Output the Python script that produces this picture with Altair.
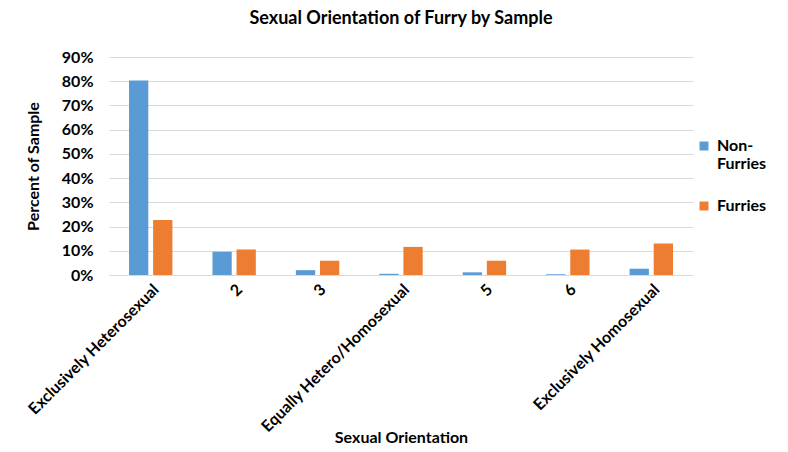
import altair as alt
import pandas as pd

categories = ["Exclusively Heterosexual", "2", "3", "Equally Hetero/Homosexual", "5", "6", "Exclusively Homosexual"]
non_furries = [80.3, 9.6, 2.0, 0.5, 1.1, 0.3, 2.6]
furries = [22.7, 10.5, 5.9, 11.6, 5.9, 10.5, 13.0]
series = ["Non-Furries", "Furries"]
colors = ["#5B9BD5", "#ED7D31"]

rows = []
for i, c in enumerate(categories):
    rows.append({"cat": c, "series": series[0], "value": non_furries[i] / 100})
    rows.append({"cat": c, "series": series[1], "value": furries[i] / 100})
df = pd.DataFrame(rows)

FONT = "Lato"

chart = alt.Chart(df).mark_bar().encode(
    x=alt.X("cat:N", sort=categories, title="Sexual Orientation",
            scale=alt.Scale(paddingInner=0.48, paddingOuter=0.24),
            axis=alt.Axis(labelAngle=-45, labelFontSize=16, labelFontWeight="bold",
                          labelColor="#000", ticks=False, domainColor="#d9d9d9",
                          labelLimit=400,
                          titleFontSize=16, titleFontWeight="bold",
                          titleY=154, titleBaseline="top",
                          titleColor="#000", labelPadding=6)),
    xOffset=alt.XOffset("series:N", sort=series, scale=alt.Scale(paddingInner=0.2)),
    y=alt.Y("value:Q", title="Percent of Sample",
            scale=alt.Scale(domain=[0, 0.9]),
            axis=alt.Axis(format=".0%", values=[i / 10 for i in range(10)],
                          labelFontSize=16, labelFontWeight="bold", labelColor="#000",
                          labelPadding=16,
                          ticks=False, domain=False, gridColor="#d9d9d9",
                          titleFontSize=16, titleFontWeight="bold", titlePadding=20,
                          titleColor="#000")),
    color=alt.Color("series:N", sort=series,
                    scale=alt.Scale(domain=series, range=colors),
                    legend=alt.Legend(title=None, orient="none", legendX=587, legendY=81,
                                      labelFontSize=16, labelFontWeight="bold",
                                      labelColor="#000", symbolType="square",
                                      symbolSize=80, rowPadding=26, labelOffset=5,
                                      labelLimit=200,
                                      labelExpr="datum.label == 'Non-Furries' ? ['Non-', 'Furries'] : datum.label")),
).properties(
    width=584, height=218,
    title=alt.Title("Sexual Orientation of Furry by Sample", fontSize=18,
                    fontWeight="bold", color="#000", offset=21, anchor="middle"),
    autosize=alt.AutoSizeParams(type="none"),
    padding={"left": 101, "top": 49, "right": 86, "bottom": 170},
).configure(font=FONT).configure_view(stroke=None)

chart.save("out.html", embed_options={"renderer": "svg", "actions": False})
